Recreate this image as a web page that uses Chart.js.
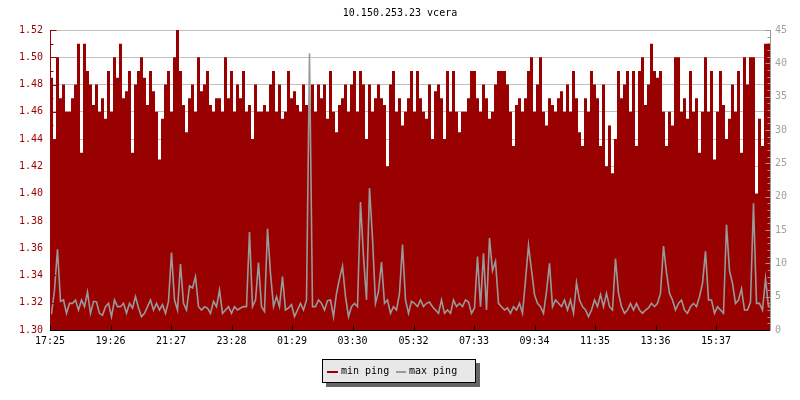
<!DOCTYPE html>
<html>
<head>
<meta charset="utf-8">
<title>10.150.253.23 vcera</title>
<script src="https://cdn.jsdelivr.net/npm/chart.js@4.4.1/dist/chart.umd.min.js"></script>
<style>
  body { margin: 0; background: #fff; }
  #wrap { position: relative; width: 800px; height: 400px; }
  #legend {
    position: absolute; left: 322px; top: 359px;
    width: 152px; height: 22px;
    border: 1px solid #000; background: #e8e8e8;
    box-shadow: 4px 4px 0 #666;
    font: 10px "DejaVu Sans Mono", monospace; color: #000;
  }
  #legend i { position: absolute; top: 11px; height: 2px; }
  #legend span { position: absolute; top: 0; line-height: 22px; white-space: nowrap; }
</style>
</head>
<body>
<div id="wrap">
  <canvas id="c" width="800" height="400"></canvas>
  <div id="legend"></div>
</div>
<script>
// rrd-style ping graph: min ping (filled, left axis) + max ping (line, right axis)

const TITLE = "10.150.253.23 vcera";
const FONT = "'DejaVu Sans Mono', monospace";
const RED = "#990000";
const GRAY = "#999999";
const GRAY_TXT = "#a0a0a0";
const GRID = "#c0c0c0";

// time axis: 24 h from 17:25, one sample every 6 min
const START = "17:25";
const SPAN_MIN = 1440;
const STEP_MIN = 6;
const TIME_LABELS = ["17:25","19:26","21:27","23:28","01:29","03:30","05:32","07:33","09:34","11:35","13:36","15:37"];

const LEFT_TICKS = [1.30,1.32,1.34,1.36,1.38,1.40,1.42,1.44,1.46,1.48,1.50,1.52];
const RIGHT_TICKS = [0,5,10,15,20,25,30,35,40,45];

const MIN_PING = [
  1.49,1.485,1.44,1.50,1.47,1.48,1.46,1.46,1.47,1.48,
  1.51,1.43,1.51,1.49,1.48,1.465,1.48,1.46,1.47,1.455,
  1.49,1.46,1.50,1.485,1.51,1.47,1.475,1.49,1.43,1.48,
  1.49,1.50,1.485,1.465,1.49,1.475,1.46,1.425,1.455,1.48,
  1.49,1.46,1.50,1.52,1.49,1.465,1.445,1.47,1.48,1.46,
  1.50,1.475,1.48,1.49,1.465,1.46,1.47,1.47,1.46,1.50,
  1.47,1.49,1.46,1.48,1.47,1.49,1.46,1.465,1.44,1.48,
  1.46,1.46,1.465,1.46,1.48,1.49,1.46,1.48,1.455,1.46,

  1.49,1.47,1.475,1.465,1.46,1.48,1.465,1.46,1.48,1.46,
  1.48,1.47,1.48,1.455,1.49,1.46,1.445,1.465,1.47,1.48,
  1.46,1.48,1.49,1.46,1.49,1.48,1.44,1.48,1.46,1.47,
  1.48,1.47,1.465,1.42,1.48,1.49,1.46,1.47,1.45,1.46,
  1.47,1.49,1.46,1.49,1.47,1.46,1.455,1.48,1.44,1.475,
  1.48,1.47,1.44,1.49,1.46,1.49,1.46,1.445,1.46,1.46,
  1.47,1.49,1.49,1.47,1.46,1.48,1.47,1.455,1.46,1.48,
  1.49,1.49,1.49,1.48,1.46,1.435,1.465,1.47,1.46,1.47,

  1.49,1.50,1.46,1.48,1.50,1.46,1.45,1.47,1.465,1.46,
  1.47,1.475,1.46,1.48,1.46,1.49,1.47,1.445,1.435,1.47,
  1.46,1.49,1.48,1.47,1.435,1.48,1.42,1.45,1.415,1.44,
  1.49,1.47,1.48,1.49,1.46,1.49,1.435,1.49,1.50,1.465,
  1.48,1.51,1.49,1.485,1.49,1.46,1.435,1.46,1.45,1.50,
  1.50,1.46,1.47,1.455,1.49,1.46,1.47,1.43,1.46,1.50,
  1.46,1.49,1.425,1.46,1.49,1.465,1.44,1.455,1.48,1.46,
  1.49,1.43,1.50,1.48,1.50,1.50,1.40,1.455,1.435,1.51
];

const MAX_PING = [
  2.5,6,12.1,4.3,4.5,2.5,4,4,4.5,3,
  4.5,3.5,5.7,2.5,4.3,4.2,2.5,2.2,3.5,4,
  2,4.5,3.5,3.5,4,2.5,4,3.3,5,3.3,
  2,2.5,3.5,4.5,3,4,3,3.8,2.5,4.3,
  11.6,4.5,3,9.9,4,3,6.6,6.3,8,3.5,
  3,3.5,3.3,2.5,4.3,3.5,6,2.5,3,3.5,
  2.5,3.5,3,3.3,3.5,3.5,14.7,3.5,4.5,10.1,
  3.5,2.8,15.2,8.5,3.5,5,3.5,8,3,3.3,

  3.8,2,3,4,3,4.5,41.5,3.5,3.5,4.5,
  4,3,4.4,4.5,2,5.5,7.7,9.6,5,2,
  3.5,4,3.5,19.2,11,4.5,21.3,13.8,4,5.8,
  10.2,4,4.5,2.5,3.5,3,5.5,12.8,4.5,2.5,
  4.3,4,3.5,4.5,3.5,4,4.2,3.5,3,2.5,
  4.5,2.5,3,2.5,4.5,3.5,4,3.5,4.5,4.2,
  2.5,3.3,11,3.5,11.5,3,13.8,8.9,10.3,4,
  3.5,3,3.3,2.5,3.5,3,4,2.5,7.5,12.7,

  9,5.3,4,3.5,2.5,5.8,10,3.5,4.5,4,
  3.5,4.5,3,4.5,2.5,7.1,4.5,3.5,3,2,
  3,4.5,3.5,5.3,3.5,5.5,3.5,3,10.7,5.5,
  3.5,2.5,3,4,3,4,3,2.5,3,3.3,
  4,3.5,4,5.5,12.6,8.6,5.5,4.5,3,4,
  4.5,3,2.5,3.5,4,3.5,5,7,11.8,4.5,
  4.5,2.5,3.5,3,2.5,15.8,8.9,7,4,4.5,
  6.2,3,3,4.2,19,4,4,3,7.7,3.5
];

const SERIES = [
  { name: "min ping", color: RED },
  { name: "max ping", color: GRAY }
];

const $ = (sel) => document.querySelector(sel);

// ---------- helpers ----------
function toMin(s) {
  const [h, m] = s.split(":").map(Number);
  return h * 60 + m;
}
function offsetMin(s) {
  return (toMin(s) - toMin(START) + SPAN_MIN) % SPAN_MIN;
}
// one point per sample; last value is held up to the end of the span
function series(vals, center) {
  const off = center ? STEP_MIN / 2 : 0;
  const pts = vals.map((v, i) => ({ x: i * STEP_MIN + off, y: v }));
  pts.push({ x: SPAN_MIN, y: vals[vals.length - 1] });
  if (center) pts.unshift({ x: 0, y: vals[0] });
  return pts;
}

// axis lines + inward tick marks, drawn on top like rrdtool does
const rrdAxes = {
  id: "rrdAxes",
  afterDatasetsDraw(chart) {
    const { ctx, chartArea: a, scales } = chart;
    const L = Math.round(a.left) + 0.5;
    const R = Math.round(a.right) + 0.5;
    const B = Math.round(a.bottom) + 0.5;
    const px = (sc, v) => Math.round(sc.getPixelForValue(v)) + 0.5;
    const seg = (x1, y1, x2, y2, c) => {
      ctx.strokeStyle = c;
      ctx.beginPath(); ctx.moveTo(x1, y1); ctx.lineTo(x2, y2); ctx.stroke();
    };
    ctx.save();
    ctx.lineWidth = 1;

    // left
    seg(L, a.top, L, a.bottom, RED);
    LEFT_TICKS.forEach((v, i) => {
      const y = px(scales.y, v);
      seg(L, y, L + 6, y, RED);
      if (i < LEFT_TICKS.length - 1) {
        const ym = px(scales.y, (v + LEFT_TICKS[i + 1]) / 2);
        seg(L, ym, L + 3, ym, RED);
      }
    });

    // right
    seg(R, a.top, R, a.bottom, GRAY);
    const rMax = RIGHT_TICKS[RIGHT_TICKS.length - 1];
    for (let v = 0; v <= rMax; v++) {
      const y = px(scales.y1, v);
      seg(R - (v % 5 === 0 ? 5 : 3), y, R, y, GRAY);
    }

    // bottom
    seg(a.left, B, a.right, B, "#000");
    TIME_LABELS.forEach(t => {
      const x = px(scales.x, offsetMin(t));
      seg(x, B - 5, x, B, "#000");
    });
    ctx.restore();
  }
};

const tickFont = { family: FONT, size: 10 };

new Chart($("#c"), {
  type: "line",
  data: {
    datasets: [
      {
        label: SERIES[1].name, data: series(MAX_PING, true), yAxisID: "y1",
        borderColor: SERIES[1].color, borderWidth: 1.6, tension: 0,
        borderJoinStyle: "miter",
        pointRadius: 0, fill: false, order: 1
      },
      {
        label: SERIES[0].name, data: series(MIN_PING, false), yAxisID: "y",
        stepped: "after", borderColor: "rgba(0,0,0,0)", backgroundColor: SERIES[0].color,
        borderWidth: 1, pointRadius: 0, fill: "start", order: 2
      }
    ]
  },
  options: {
    responsive: false,
    animation: false,
    events: [],
    layout: { padding: 0 },
    plugins: {
      legend: { display: false },
      tooltip: { enabled: false },
      title: {
        display: true, text: TITLE, color: "#000",
        font: { family: FONT, size: 10, weight: "normal" },
        padding: { top: 7, bottom: 11 }
      }
    },
    scales: {
      x: {
        type: "linear", min: 0, max: SPAN_MIN,
        grid: { display: false, drawTicks: false },
        border: { display: false },
        afterBuildTicks: s => { s.ticks = TIME_LABELS.map(t => ({ value: offsetMin(t) })); },
        afterFit: s => { s.height = 70; },
        ticks: {
          color: "#000", font: tickFont, padding: 5,
          maxRotation: 0, autoSkip: false,
          callback: (v, i) => TIME_LABELS[i]
        }
      },
      y: {
        position: "left", min: LEFT_TICKS[0], max: LEFT_TICKS[LEFT_TICKS.length - 1],
        afterBuildTicks: s => { s.ticks = LEFT_TICKS.map(v => ({ value: v })); },
        afterFit: s => { s.width = 50; },
        grid: { color: GRID, drawTicks: false },
        border: { display: false },
        ticks: { color: RED, font: tickFont, padding: 7, callback: v => v.toFixed(2) }
      },
      y1: {
        position: "right", min: RIGHT_TICKS[0], max: RIGHT_TICKS[RIGHT_TICKS.length - 1],
        afterBuildTicks: s => { s.ticks = RIGHT_TICKS.map(v => ({ value: v })); },
        afterFit: s => { s.width = 30; },
        grid: { display: false, drawTicks: false },
        border: { display: false },
        ticks: { color: GRAY_TXT, font: tickFont, padding: 5 }
      }
    }
  },
  plugins: [rrdAxes]
});

// legend box (rrdtool style, with drop shadow)
const lg = $("#legend");
const slots = [[4, 11, 18], [73, 10, 86]]; // swatch left, swatch width, text left
SERIES.forEach((s, i) => {
  const [sl, sw, tl] = slots[i];
  lg.insertAdjacentHTML("beforeend",
    `<i style="left:${sl}px;width:${sw}px;background:${s.color}"></i>` +
    `<span style="left:${tl}px">${s.name}</span>`);
});
</script>
</body>
</html>
